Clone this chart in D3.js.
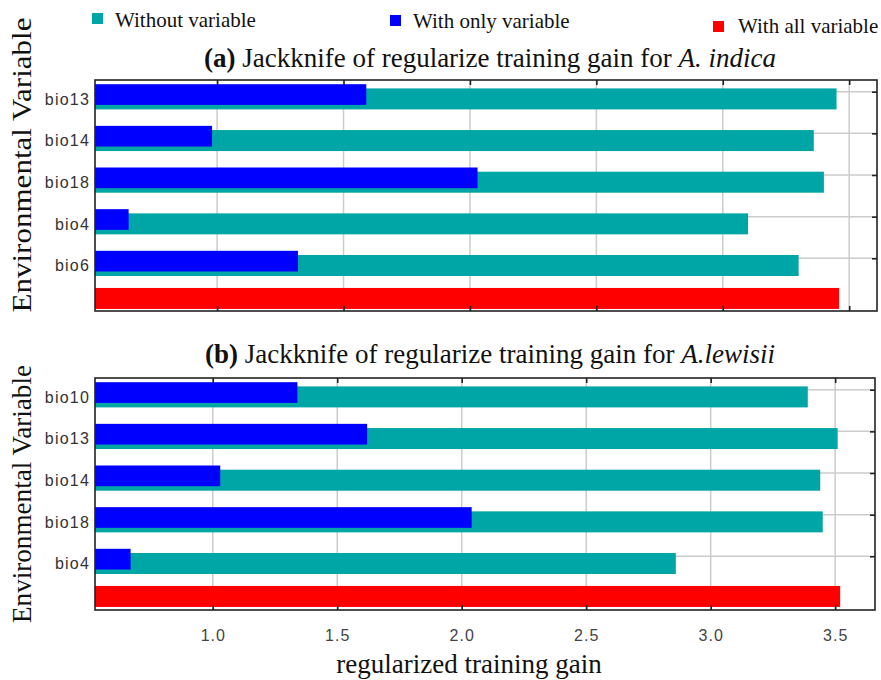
<!DOCTYPE html>
<html>
<head>
<meta charset="utf-8">
<script src="https://cdn.jsdelivr.net/npm/d3@7"></script>
<style>
  body { margin: 0; background: #fff; }
  svg { display: block; }
  .serif { font-family: "Liberation Serif", "Times New Roman", Times, "DejaVu Serif", serif; }
  .sans { font-family: "Liberation Sans", Arial, Helvetica, sans-serif; }
</style>
</head>
<body>
<svg id="chart" width="881" height="680"></svg>
<script>
// Jackknife of regularized training gain (MaxEnt), two species
const indicaVars = ["bio13", "bio14", "bio18", "bio4", "bio6"];
const indicaWithout = [3.45, 3.36, 3.40, 3.10, 3.30];
const indicaOnly = [1.59, 0.98, 2.03, 0.65, 1.32];
const indicaAll = 3.46;

const lewisiiVars = ["bio10", "bio13", "bio14", "bio18", "bio4"];
const lewisiiWithout = [3.39, 3.51, 3.44, 3.45, 2.86];
const lewisiiOnly = [1.34, 1.62, 1.03, 2.04, 0.67];
const lewisiiAll = 3.52;

const gainTicks = [1.0, 1.5, 2.0, 2.5, 3.0, 3.5];
const legendLabels = ["Without variable", "With only variable", "With all variable"];
const yTitle = "Environmental Variable";
const xTitle = "regularized training gain";

const COLORS = { without: "#00a6a6", only: "#0000ff", all: "#ff0000", grid: "#cccccc", frame: "#222" };

const svg = d3.select("#chart");

const panels = [
  {
    tag: "(a)", species: "A. indica",
    vars: indicaVars, without: indicaWithout, only: indicaOnly, all: indicaAll,
    domain: [0.517, 3.61], box: { x0: 95, x1: 877, y0: 80, y1: 311 },
    titleY: 67, yTitleCy: 165, yTitleLen: 295, tickLabels: false
  },
  {
    tag: "(b)", species: "A.lewisii",
    vars: lewisiiVars, without: lewisiiWithout, only: lewisiiOnly, all: lewisiiAll,
    domain: [0.527, 3.66], box: { x0: 95, x1: 875, y0: 378, y1: 610 },
    titleY: 363, yTitleCy: 494, yTitleLen: 258, tickLabels: true
  }
];

const ROW_STEP = 41.65;

panels.forEach(p => {
  const b = p.box;
  const g = svg.append("g");
  const x = d3.scaleLinear().domain(p.domain).range([b.x0, b.x1]);
  const nRows = p.vars.length + 1;
  const y = d3.scaleLinear().domain([0, nRows - 1])
    .range([b.y0 + 11.7, b.y0 + 11.7 + (nRows - 1) * ROW_STEP]);
  const rowIdx = d3.range(p.vars.length);

  // grid
  g.append("g").selectAll("line").data(gainTicks).join("line")
    .attr("x1", d => x(d)).attr("x2", d => x(d))
    .attr("y1", b.y0).attr("y2", b.y1)
    .attr("stroke", COLORS.grid).attr("stroke-width", 1.5);
  g.append("g").selectAll("line").data(rowIdx).join("line")
    .attr("x1", b.x0).attr("x2", b.x1)
    .attr("y1", d => y(d)).attr("y2", d => y(d))
    .attr("stroke", COLORS.grid).attr("stroke-width", 1.5);

  // bars: training gain without each variable
  g.append("g").selectAll("rect").data(rowIdx).join("rect")
    .attr("x", x(p.domain[0]))
    .attr("y", i => y(i) - 3.3)
    .attr("width", i => x(p.without[i]) - x(p.domain[0]))
    .attr("height", 21)
    .attr("fill", COLORS.without);
  // bars: training gain with only each variable
  g.append("g").selectAll("rect").data(rowIdx).join("rect")
    .attr("x", x(p.domain[0]))
    .attr("y", i => y(i) - 7.5)
    .attr("width", i => x(p.only[i]) - x(p.domain[0]))
    .attr("height", 20.7)
    .attr("fill", COLORS.only);
  // bar: training gain with all variables
  g.append("rect")
    .attr("x", x(p.domain[0]))
    .attr("y", y(nRows - 1) - 12)
    .attr("width", x(p.all) - x(p.domain[0]))
    .attr("height", 21)
    .attr("fill", COLORS.all);

  // frame
  g.append("rect")
    .attr("x", b.x0).attr("y", b.y0)
    .attr("width", b.x1 - b.x0).attr("height", b.y1 - b.y0)
    .attr("fill", "none").attr("stroke", COLORS.frame).attr("stroke-width", 1.6);

  // top and bottom ticks
  const topAxis = g.append("g").attr("transform", `translate(0,${b.y0})`)
    .call(d3.axisTop(x).tickValues(gainTicks).tickSize(-5).tickFormat(""));
  const botAxis = g.append("g").attr("transform", `translate(0,${b.y1})`)
    .call(d3.axisBottom(x).tickValues(gainTicks).tickSize(-5).tickPadding(19.6)
      .tickFormat(p.tickLabels ? d3.format(".1f") : ""));
  // right ticks at each variable row
  const rightAxis = g.append("g").attr("transform", `translate(${b.x1},0)`)
    .call(d3.axisLeft(y).tickValues(rowIdx).tickSize(5).tickFormat(""));
  [topAxis, botAxis, rightAxis].forEach(a => {
    a.attr("font-family", null);
    a.select(".domain").remove();
    a.selectAll(".tick line").attr("stroke", COLORS.frame).attr("stroke-width", 1.6);
  });
  rightAxis.selectAll(".tick line").attr("x2", -5);
  botAxis.selectAll("text")
    .attr("class", "sans").attr("font-size", 16)
    .attr("letter-spacing", 1).attr("fill", "#444");

  // variable labels
  const leftAxis = g.append("g").attr("transform", `translate(${b.x0},7.5)`)
    .call(d3.axisLeft(y).tickValues(rowIdx).tickSize(0).tickPadding(5)
      .tickFormat(i => p.vars[i]));
  leftAxis.attr("font-family", null);
  leftAxis.select(".domain").remove();
  leftAxis.selectAll("text")
    .attr("class", "sans").attr("font-size", 16)
    .attr("letter-spacing", 1.2).attr("fill", "#333");

  // panel title
  const t = g.append("text")
    .attr("class", "serif")
    .attr("x", 490).attr("y", p.titleY)
    .attr("text-anchor", "middle")
    .attr("font-size", 27).attr("fill", "#111");
  t.append("tspan").attr("font-weight", "bold").text(p.tag);
  t.append("tspan").text(" Jackknife of regularize training gain for ");
  t.append("tspan").attr("font-style", "italic").text(p.species);

  // y-axis title
  g.append("text")
    .attr("class", "serif")
    .attr("transform", `translate(31,${p.yTitleCy}) rotate(-90)`)
    .attr("text-anchor", "middle")
    .attr("font-size", 27).attr("fill", "#111")
    .attr("textLength", p.yTitleLen).attr("lengthAdjust", "spacingAndGlyphs")
    .text(yTitle);
});

// x-axis title
svg.append("text")
  .attr("class", "serif")
  .attr("x", 469).attr("y", 673)
  .attr("text-anchor", "middle")
  .attr("font-size", 27).attr("fill", "#111")
  .text(xTitle);

// legend
const legendItems = [
  { color: COLORS.without, sx: 92, sy: 13, tx: 115, ty: 27 },
  { color: COLORS.only, sx: 390, sy: 15, tx: 413, ty: 27.5 },
  { color: COLORS.all, sx: 713, sy: 21, tx: 738, ty: 33 }
];
const legend = svg.append("g");
legend.selectAll("rect").data(legendItems).join("rect")
  .attr("x", d => d.sx).attr("y", d => d.sy)
  .attr("width", 11).attr("height", 11)
  .attr("fill", d => d.color);
legend.selectAll("text").data(legendItems).join("text")
  .attr("class", "serif")
  .attr("x", d => d.tx).attr("y", d => d.ty)
  .attr("font-size", 21).attr("fill", "#111")
  .text((d, i) => legendLabels[i]);
</script>
</body>
</html>
